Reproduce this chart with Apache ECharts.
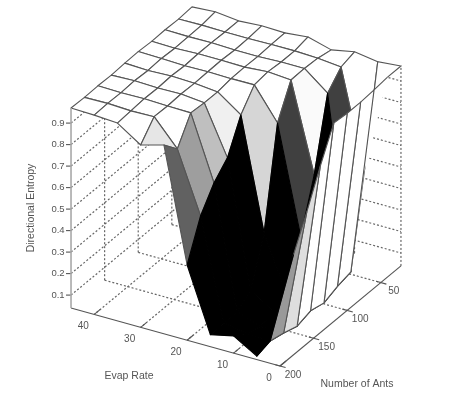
<!DOCTYPE html>
<html>
<head>
<meta charset="utf-8">
<style>html,body{margin:0;padding:0;background:#fff}#c{width:454px;height:406px}</style>
<script src="https://cdn.jsdelivr.net/npm/echarts@6/dist/echarts.min.js"></script>
</head>
<body>
<div id="c"></div>
<script>
// Axis values
const evapRates = [0, 5, 10, 15, 20, 25, 30, 35, 40, 45];
const antCounts = [200, 180, 160, 140, 120, 100, 80, 60, 40, 20];
const evapTicks = [40, 30, 20, 10, 0];
const antTicks = [200, 150, 100, 50];
const entropyTicks = [0.1, 0.2, 0.3, 0.4, 0.5, 0.6, 0.7, 0.8, 0.9];

// Directional entropy, one list per evap rate, ordered as antCounts
const entropyE0  = [0.40, 0.505, 0.654, 0.815, 0.963, 0.957, 0.957, 0.962, 0.970, 0.970];
const entropyE5  = [0.056, 0.075, 0.060, 0.040, 0.060, 0.045, 0.070, 0.086, 0.500, 0.960];
const entropyE10 = [0.120, 0.080, 0.060, 0.080, 0.100, 0.324, 0.560, 0.887, 0.957, 0.976];
const entropyE15 = [0.096, 0.100, 0.100, 0.150, 0.361, 0.822, 0.970, 0.972, 0.968, 0.955];
const entropyE20 = [0.390, 0.566, 0.668, 0.733, 0.881, 0.969, 0.978, 0.972, 0.972, 0.985];
const entropyE25 = [0.918, 0.848, 0.964, 0.959, 0.958, 0.968, 0.970, 0.968, 0.972, 0.974];
const entropyE30 = [0.888, 0.968, 0.966, 0.970, 0.968, 0.970, 0.972, 0.968, 0.970, 0.977];
const entropyE35 = [0.960, 0.965, 0.970, 0.968, 0.972, 0.968, 0.972, 0.972, 0.970, 0.970];
const entropyE40 = [0.967, 0.970, 0.968, 0.972, 0.968, 0.972, 0.968, 0.970, 0.972, 0.982];
const entropyE45 = [0.970, 0.968, 0.970, 0.968, 0.972, 0.974, 0.970, 0.972, 0.970, 0.975];
const entropyRows = [entropyE0, entropyE5, entropyE10, entropyE15, entropyE20, entropyE25, entropyE30, entropyE35, entropyE40, entropyE45];

// Colour value of each patch (0 black .. 1 white)
const shadeE0  = [0, 0.60, 0.87, 1, 1, 1, 1, 1, 1];
const shadeE5  = [0, 0, 0, 0, 0, 0, 0, 0.25, 1];
const shadeE10 = [0, 0, 0, 0, 0, 0.25, 0.98, 1, 1];
const shadeE15 = [0, 0, 0, 0, 0.84, 1, 1, 1, 1];
const shadeE20 = [0.38, 0.62, 0.75, 0.94, 1, 1, 1, 1, 1];
const shadeE25 = [0.90, 1, 1, 1, 1, 1, 1, 1, 1];
const shadeE30 = [1, 1, 1, 1, 1, 1, 1, 1, 1];
const shadeE35 = [1, 1, 1, 1, 1, 1, 1, 1, 1];
const shadeE40 = [1, 1, 1, 1, 1, 1, 1, 1, 1];
const shadeRows = [shadeE0, shadeE5, shadeE10, shadeE15, shadeE20, shadeE25, shadeE30, shadeE35, shadeE40];

// Patches at the right rim whose outline is only partly visible: corner indices of the drawn edge path
const partialOutlines = {
  '0,7': [[0, 7], [0, 8]],
  '0,8': [[0, 8], [0, 9], [1, 9], [1, 8]]
};

const Z_MIN = 0.04, Z_MAX = 0.97, E_MAX = 45, A_MIN = 20, A_MAX = 200;

// Oblique view of (evap, ants, entropy) on the chart plane
function project(e, a, z) {
  return [
    280 - 4.644 * e + 0.672 * (A_MAX - a),
    366 - 1.289 * e - 0.556 * (A_MAX - a) - 215 * (z - Z_MIN)
  ];
}

const TXT = '#555';
const font = s => s + 'px "Liberation Sans", Arial, sans-serif';

function seg(api, p, q, style) {
  const a = api.coord(p), b = api.coord(q);
  return { type: 'line', shape: { x1: a[0], y1: a[1], x2: b[0], y2: b[1] }, style: style };
}
const dash = { stroke: '#666', lineWidth: 1.2, lineDash: [2, 2], fill: null };
const solid = { stroke: '#555', lineWidth: 1.1, fill: null };
const EDGE = '#555';

// ---- back walls and floor
const wallItems = [];
entropyTicks.forEach(z => {
  wallItems.push([E_MAX, A_MAX, z, E_MAX, A_MIN, z]);
  wallItems.push([E_MAX, A_MIN, z, 0, A_MIN, z]);
});
antTicks.filter(a => a !== 200).forEach(a => {
  wallItems.push([E_MAX, a, Z_MIN, E_MAX, a, Z_MAX]);
  wallItems.push([E_MAX, a, Z_MIN, 0, a, Z_MIN]);
});
evapTicks.filter(e => e !== 0).forEach(e => {
  wallItems.push([e, A_MIN, Z_MIN, e, A_MIN, Z_MAX]);
  wallItems.push([e, A_MIN, Z_MIN, e, A_MAX, Z_MIN]);
});
wallItems.push([0, A_MIN, Z_MIN, 0, A_MIN, Z_MAX]);

// ---- surface patches, far to near
const patchItems = [];
for (let i = evapRates.length - 2; i >= 0; i--) {
  for (let k = antCounts.length - 2; k >= 0; k--) patchItems.push([i, k]);
}

// ---- axes
const axisItems = [
  [E_MAX, A_MAX, Z_MIN, 0, A_MAX, Z_MIN],
  [0, A_MAX, Z_MIN, 0, A_MIN, Z_MIN]
];
evapTicks.forEach(e => axisItems.push([e, A_MAX, Z_MIN, e, A_MAX - 9, Z_MIN]));
antTicks.forEach(a => axisItems.push([-1.2, a, Z_MIN, 1, a, Z_MIN]));

const labelOffset = {
  evap: [-11, 12],
  ants: [13, 9]
};
const labels = [];
evapTicks.forEach(e => {
  const p = project(e, A_MAX, Z_MIN);
  labels.push({ p: [p[0] + labelOffset.evap[0], p[1] + labelOffset.evap[1]], t: String(e), size: 10 });
});
antTicks.forEach(a => {
  const p = project(0, a, Z_MIN);
  labels.push({ p: [p[0] + labelOffset.ants[0], p[1] + labelOffset.ants[1]], t: String(a), size: 10 });
});
entropyTicks.forEach(z => {
  const p = project(E_MAX, A_MAX, z);
  labels.push({ p: [p[0] - 13, p[1]], t: z.toFixed(1), size: 9.5 });
});
labels.push({ p: [129, 376], t: 'Evap Rate', size: 10.5 });
labels.push({ p: [357, 384], t: 'Number of Ants', size: 10.5 });
labels.push({ p: [31, 208], t: 'Directional Entropy', size: 10.5, rot: Math.PI / 2 });

const chart = echarts.init(document.getElementById('c'), null, { renderer: 'canvas' });
chart.setOption({
  animation: false,
  backgroundColor: '#fff',
  grid: { left: 0, right: 0, top: 0, bottom: 0 },
  xAxis: { type: 'value', min: 0, max: 454, show: false },
  yAxis: { type: 'value', min: 0, max: 406, inverse: true, show: false },
  tooltip: { show: false },
  series: [
    {
      name: 'walls', type: 'custom', silent: true, clip: false, z: 1,
      data: wallItems.map((w, i) => [i, 0]),
      renderItem: (params, api) => {
        const w = wallItems[params.dataIndex];
        return seg(api, project(w[0], w[1], w[2]), project(w[3], w[4], w[5]), dash);
      }
    },
    {
      name: 'Directional Entropy', type: 'custom', silent: true, clip: false, z: 2,
      data: patchItems,
      renderItem: (params, api) => {
        const i = api.value(0), k = api.value(1);
        const corner = (ii, kk) => api.coord(project(evapRates[ii], antCounts[kk], entropyRows[ii][kk]));
        const g = Math.round(shadeRows[i][k] * 255);
        const col = 'rgb(' + g + ',' + g + ',' + g + ')';
        const points = [corner(i, k), corner(i, k + 1), corner(i + 1, k + 1), corner(i + 1, k)];
        const partial = partialOutlines[i + ',' + k];
        if (partial) {
          return {
            type: 'group',
            children: [
              { type: 'polygon', shape: { points: points }, style: { fill: col, stroke: null } },
              { type: 'polyline', shape: { points: partial.map(c => corner(c[0], c[1])) },
                style: { fill: null, stroke: EDGE, lineWidth: 1.1 } }
            ]
          };
        }
        return {
          type: 'polygon',
          shape: { points: points },
          style: { fill: col, stroke: g < 30 ? '#000' : EDGE, lineWidth: 1.1, lineJoin: 'round' }
        };
      }
    },
    {
      name: 'axes', type: 'custom', silent: true, clip: false, z: 3,
      data: axisItems.map((w, i) => [i, 0]),
      renderItem: (params, api) => {
        const w = axisItems[params.dataIndex];
        return seg(api, project(w[0], w[1], w[2]), project(w[3], w[4], w[5]), solid);
      }
    },
    {
      name: 'zaxis', type: 'custom', silent: true, clip: false, z: 3,
      data: entropyTicks.map((z, i) => [i, 0]).concat([[entropyTicks.length, 0]]),
      renderItem: (params, api) => {
        const i = params.dataIndex;
        if (i === entropyTicks.length) {
          return seg(api, project(E_MAX, A_MAX, Z_MIN), project(E_MAX, A_MAX, Z_MAX), { stroke: '#a8a8a8', lineWidth: 1.6, fill: null });
        }
        const p = project(E_MAX, A_MAX, entropyTicks[i]);
        return seg(api, [p[0] - 5, p[1]], p, solid);
      }
    },
    {
      name: 'labels', type: 'custom', silent: true, clip: false, z: 4,
      data: labels.map((l, i) => [i, 0]),
      renderItem: (params, api) => {
        const l = labels[params.dataIndex];
        const c = api.coord(l.p);
        return {
          type: 'text', x: c[0], y: c[1], rotation: l.rot || 0,
          style: { text: l.t, fill: TXT, font: font(l.size), align: 'center', verticalAlign: 'middle' }
        };
      }
    }
  ]
});
</script>
</body>
</html>
